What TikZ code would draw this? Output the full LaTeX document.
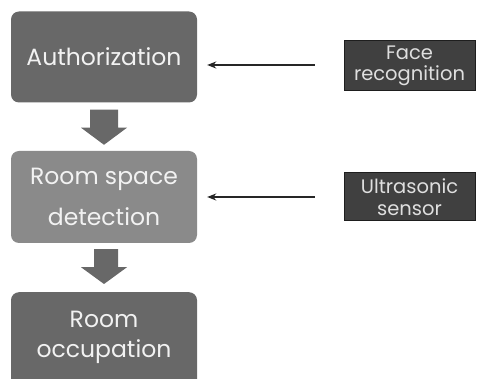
\documentclass[tikz,border=0pt]{standalone}
\usepackage{fontspec}
\setmainfont{Poppins}
\usetikzlibrary{arrows.meta,calc}
\definecolor{stepdark}{HTML}{686868}
\definecolor{steplight}{HTML}{8A8A8A}
\definecolor{srcfill}{HTML}{404040}
\definecolor{srcedge}{HTML}{1E1E1E}
\definecolor{txtwhite}{HTML}{F2F2F2}
\tikzset{
  stepbox/.style={rounded corners=8pt, minimum width=186pt, inner sep=0pt,
    text=txtwhite, align=center},
  srcbox/.style={draw=srcedge, fill=srcfill, line width=1pt, minimum width=131pt,
    inner sep=0pt, text=txtwhite!92!black, align=center,
    font=\fontsize{19.5}{21.5}\selectfont},
  feed/.style={-{Stealth[length=9pt,width=7pt]}, line width=1.5pt, draw=black!85},
  blockarrow/.style={fill=stepdark, draw=none}
}
\begin{document}
\begin{tikzpicture}[x=1pt,y=-1pt]
\clip (0,0) rectangle (477,379);
\fill[white] (0,0) rectangle (477,379);

% process steps
\node[stepbox, fill=stepdark, minimum height=91pt, font=\fontsize{23.5}{27}\selectfont]
  (auth) at (104,57) {Authorization};
\node[stepbox, fill=steplight, minimum height=92pt, font=\fontsize{23.5}{41}\selectfont]
  (detect) at (104,197) {Room space\\detection};
\node[stepbox, fill=stepdark, minimum height=104pt, anchor=north]
  (occup) at (104,292) {};
\node[text=txtwhite, align=center, font=\fontsize{23.5}{30}\selectfont]
  (occuptext) at (104,337) {Room\\occupation};

% sources
\node[srcbox, minimum height=50pt] (face) at (409.5,66) {Face\\recognition};
\node[srcbox, minimum height=48pt] (sonic) at (409.5,197) {Ultrasonic\\sensor};

% block arrows between steps
\path ($(auth.south)+(0,7)$) coordinate (a1);
\fill[blockarrow] ($(a1)+(-14,0)$) -- ($(a1)+(14,0)$) -- ($(a1)+(14,18)$)
  -- ($(a1)+(23,18)$) -- ($(detect.north)+(0,-6)$) -- ($(a1)+(-23,18)$)
  -- ($(a1)+(-14,18)$) -- cycle;
\path ($(detect.south)+(0,6)$) coordinate (a2);
\fill[blockarrow] ($(a2)+(-10,0)$) -- ($(a2)+(14,0)$) -- ($(a2)+(14,18)$)
  -- ($(a2)+(23,18)$) -- ($(occup.north)+(0,-8)$) -- ($(a2)+(-23,18)$)
  -- ($(a2)+(-10,18)$) -- cycle;

% sensor feeds
\coordinate (f1) at ($(face.west)+(-29,-1)$);
\coordinate (f2) at ($(sonic.west)+(-29,0)$);
\draw[feed, shorten >=10pt] (f1) -- (auth.east |- f1);
\draw[feed, shorten >=10pt] (f2) -- (detect.east |- f2);
\end{tikzpicture}
\end{document}
